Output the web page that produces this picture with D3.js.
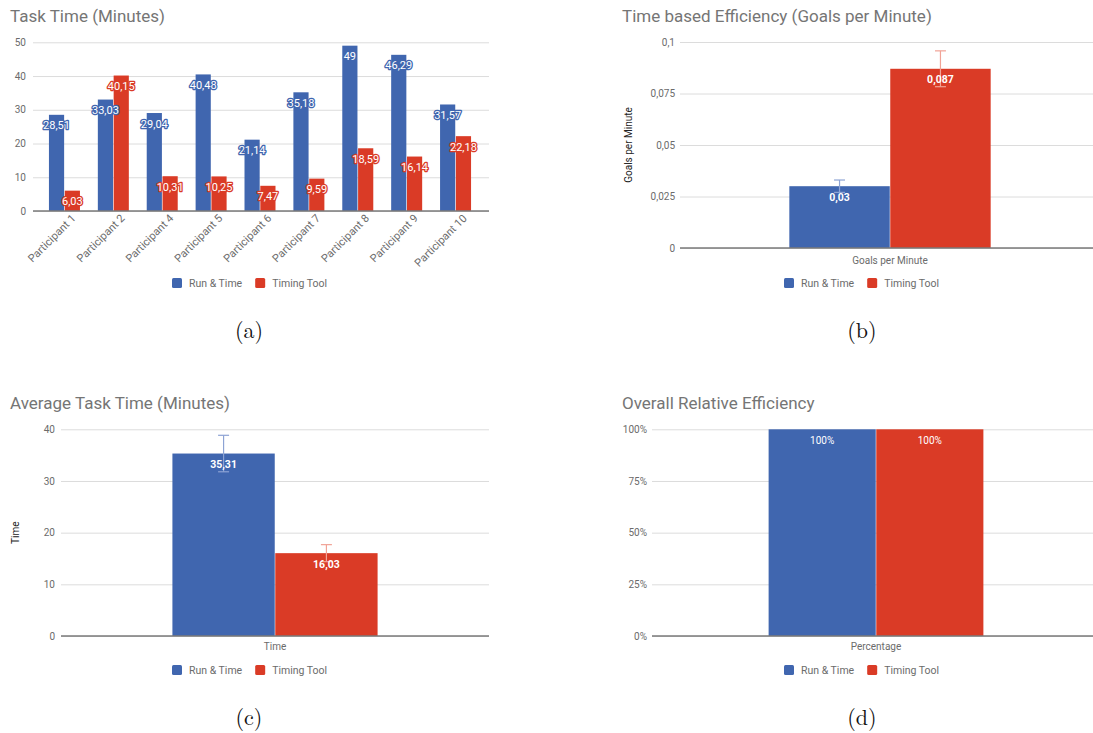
<!DOCTYPE html>
<html><head><meta charset="utf-8">
<script src="https://cdn.jsdelivr.net/npm/d3@7"></script>
<style>
body{margin:0;background:#fff}
svg{display:block}
text{font-family:Roboto, "Noto Sans", sans-serif}
</style>
</head><body>
<svg id="c" width="1093" height="733"></svg>
<script>
// ---------- DATA ----------
const seriesNames = ["Run & Time", "Timing Tool"];
const participants = ["Participant 1","Participant 2","Participant 4","Participant 5","Participant 6","Participant 7","Participant 8","Participant 9","Participant 10"];
const taskTimeRun  = [28.51, 33.03, 29.04, 40.48, 21.14, 35.18, 49, 46.29, 31.57];
const taskTimeTool = [6.03, 40.15, 10.31, 10.25, 7.47, 9.59, 18.59, 16.14, 22.18];
const taskTicks = [0, 10, 20, 30, 40, 50];

const effCategory = ["Goals per Minute"];
const effRun = [0.03];
const effTool = [0.087];
const effErrRun = [0.003];
const effErrTool = [0.0087];
const effTicks = [0, 0.025, 0.05, 0.075, 0.1];
const effTickLabels = ["0", "0,025", "0,05", "0,075", "0,1"];

const avgCategory = ["Time"];
const avgRun = [35.31];
const avgTool = [16.03];
const avgErrRun = [3.53];
const avgErrTool = [1.65];
const avgTicks = [0, 10, 20, 30, 40];

const relCategory = ["Percentage"];
const relRun = [1];
const relTool = [1];
const relTicks = [0, 0.25, 0.5, 0.75, 1];
const relTickLabels = ["0%", "25%", "50%", "75%", "100%"];

const captions = ["(a)", "(b)", "(c)", "(d)"];

// ---------- STYLE ----------
const colors = ["#4066AF", "#DA3B26"];
const errColors = ["#8DA3D4", "#F1A396"];
const gridColor = "#DCDCDC";
const textGray = "#6B6B6B";
const titleGray = "#757575";

const comma = v => String(v).replace(".", ",");
const svg = d3.select("#c");

function yAxis(g, y, ticks, labels, x1, x2, pad) {
  const ax = d3.axisLeft(y).tickValues(ticks)
    .tickFormat((d, i) => labels ? labels[i] : comma(d))
    .tickSizeInner(-(x2 - x1)).tickSizeOuter(0).tickPadding(pad);
  const a = g.append("g").attr("transform", `translate(${x1},0)`).call(ax);
  a.select(".domain").remove();
  a.selectAll(".tick line").attr("stroke", gridColor).attr("stroke-width", 1);
  a.selectAll(".tick text").attr("fill", textGray).attr("font-size", 10)
    .style("font-family", "Roboto");
}

function baseline(g, y, x1, x2) {
  g.append("line").attr("x1", x1).attr("x2", x2)
    .attr("y1", y(0)).attr("y2", y(0))
    .attr("stroke", "#7A7A7A").attr("stroke-width", 1.6);
}

function title(g, txt, x, yb) {
  g.append("text").attr("x", x).attr("y", yb).text(txt)
    .attr("font-size", 17).attr("fill", titleGray);
}

function legend(g, x, yc) {
  let cx = x;
  seriesNames.forEach((s, i) => {
    g.append("rect").attr("x", cx).attr("y", yc - 5).attr("width", 10).attr("height", 10)
      .attr("rx", 1.5).attr("fill", colors[i]);
    const t = g.append("text").attr("x", cx + 17).attr("y", yc + 3.8).text(s)
      .attr("font-size", 10.5).attr("fill", textGray);
    cx += 17 + t.node().getComputedTextLength() + 13;
  });
}

function caption(txt, x, yb) {
  svg.append("text").attr("x", x).attr("y", yb).attr("text-anchor", "middle").text(txt)
    .style("font-family", "'Latin Modern Roman','CMU Serif','Liberation Serif',serif")
    .attr("font-size", 22).attr("fill", "#111");
}

// ---------- (a) grouped bars ----------
(function () {
  const g = svg.append("g");
  title(g, "Task Time (Minutes)", 10, 21.5);
  const y = d3.scaleLinear().domain([0, 50]).range([211, 42.3]);
  yAxis(g, y, taskTicks, null, 33, 489, 7);
  const x0 = d3.scaleBand().domain(participants).range([40, 480])
    .paddingInner(0.366).paddingOuter(0.183);
  const x1 = d3.scaleBand().domain(seriesNames).range([0, x0.bandwidth()]).paddingInner(0.04);
  const vals = [taskTimeRun, taskTimeTool];
  participants.forEach((p, pi) => {
    seriesNames.forEach((s, si) => {
      const v = vals[si][pi];
      g.append("rect").attr("x", x0(p) + x1(s)).attr("y", y(v))
        .attr("width", x1.bandwidth()).attr("height", y(0) - y(v)).attr("fill", colors[si]);
    });
  });
  participants.forEach((p, pi) => {
    seriesNames.forEach((s, si) => {
      const v = vals[si][pi];
      g.append("text").attr("x", x0(p) + x1(s) + x1.bandwidth() / 2).attr("y", y(v) + 14.5)
        .attr("text-anchor", "middle").text(comma(v)).attr("font-size", 11)
        .attr("fill", "#fff").attr("stroke", colors[si]).attr("stroke-width", 2.6)
        .attr("stroke-linejoin", "round").style("paint-order", "stroke");
    });
  });
  baseline(g, y, 33, 489);
  participants.forEach(p => {
    const cx = x0(p) + x0.bandwidth() / 2;
    g.append("text").attr("transform", `translate(${cx + 12},${219}) rotate(-45)`)
      .attr("text-anchor", "end").text(p).attr("font-size", 11).attr("fill", textGray);
  });
  legend(g, 172, 283);
  caption(captions[0], 249, 338);
})();

// ---------- single category charts ----------
function single(opt) {
  const g = svg.append("g");
  title(g, opt.title, opt.titleX, opt.titleY);
  const y = d3.scaleLinear().domain(opt.domain).range([opt.y0, opt.yTop]);
  yAxis(g, y, opt.ticks, opt.tickLabels, opt.px1, opt.px2, opt.pad);
  const x0 = d3.scaleBand().domain(opt.category).range([opt.px1, opt.bandEnd])
    .paddingInner(0).paddingOuter(0.543);
  const x1 = d3.scaleBand().domain(seriesNames).range([0, x0.bandwidth()]).paddingInner(0.005);
  const vals = [opt.run, opt.tool];
  const errs = opt.errs;
  opt.category.forEach((c, ci) => {
    seriesNames.forEach((s, si) => {
      const v = vals[si][ci];
      g.append("rect").attr("x", x0(c) + x1(s)).attr("y", y(v))
        .attr("width", x1.bandwidth()).attr("height", y(0) - y(v)).attr("fill", colors[si]);
    });
    if (errs) {
      seriesNames.forEach((s, si) => {
        const v = vals[si][ci], e = errs[si][ci];
        const cx = x0(c) + x1(s) + x1.bandwidth() / 2;
        const eg = g.append("g").attr("stroke", errColors[si]).attr("stroke-width", 1.2);
        eg.append("line").attr("x1", cx).attr("x2", cx).attr("y1", y(v - e)).attr("y2", y(v + e));
        [v - e, v + e].forEach(w => eg.append("line").attr("x1", cx - 5.5).attr("x2", cx + 5.5)
          .attr("y1", y(w)).attr("y2", y(w)));
      });
    }
    seriesNames.forEach((s, si) => {
      const v = vals[si][ci];
      g.append("text").attr("x", x0(c) + x1(s) + x1.bandwidth() / 2).attr("y", y(v) + 14.5)
        .attr("text-anchor", "middle").text(opt.valFmt(v))
        .attr("font-size", opt.bold ? 10.5 : 10).attr("font-weight", opt.bold ? 700 : 400)
        .attr("fill", "#fff");
    });
    g.append("text").attr("x", x0(c) + x0.bandwidth() / 2).attr("y", opt.xLabelY)
      .attr("text-anchor", "middle").text(c).attr("font-size", 10).attr("fill", textGray);
  });
  baseline(g, y, opt.px1, opt.px2);
  if (opt.yTitle) {
    g.append("text").attr("transform", `translate(${opt.yTitleX},${(opt.y0 + opt.yTop) / 2}) rotate(-90)`)
      .attr("text-anchor", "middle").text(opt.yTitle).attr("font-size", 10).attr("fill", "#222");
  }
  legend(g, opt.legendX, opt.legendY);
  caption(opt.caption, opt.capX, opt.capY);
}

single({
  title: "Time based Efficiency (Goals per Minute)", titleX: 622, titleY: 21.5,
  domain: [0, 0.1], y0: 248, yTop: 42, ticks: effTicks, tickLabels: effTickLabels,
  px1: 680, px2: 1093, bandEnd: 1100, pad: 5,
  category: effCategory, run: effRun, tool: effTool, errs: [effErrRun, effErrTool],
  valFmt: comma, bold: true, xLabelY: 264, yTitle: "Goals per Minute", yTitleX: 632,
  legendX: 784, legendY: 283, caption: captions[1], capX: 862, capY: 338
});

single({
  title: "Average Task Time (Minutes)", titleX: 10, titleY: 408.5,
  domain: [0, 40], y0: 636, yTop: 429.3, ticks: avgTicks, tickLabels: null,
  px1: 61, px2: 489, bandEnd: 489, pad: 6,
  category: avgCategory, run: avgRun, tool: avgTool, errs: [avgErrRun, avgErrTool],
  valFmt: comma, bold: true, xLabelY: 650, yTitle: "Time", yTitleX: 19,
  legendX: 172, legendY: 670, caption: captions[2], capX: 249, capY: 725
});

single({
  title: "Overall Relative Efficiency", titleX: 622, titleY: 408.5,
  domain: [0, 1], y0: 636, yTop: 429.3, ticks: relTicks, tickLabels: relTickLabels,
  px1: 652, px2: 1093, bandEnd: 1100, pad: 5,
  category: relCategory, run: relRun, tool: relTool, errs: null,
  valFmt: v => Math.round(v * 100) + "%", bold: false, xLabelY: 650, yTitle: null,
  legendX: 784, legendY: 670, caption: captions[3], capX: 862, capY: 725
});
</script>
</body></html>
